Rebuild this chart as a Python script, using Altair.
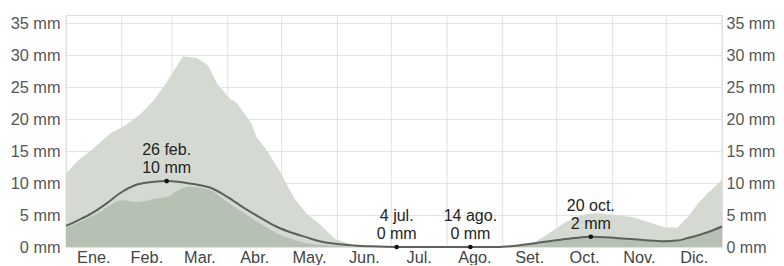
import altair as alt
import pandas as pd

# ---- data (day of year, mm) ----
p90_days = [0, 7, 16, 25, 33, 42, 49, 55, 62, 65, 73, 79, 84, 91, 95, 103, 106, 112, 119, 127, 134, 141, 150, 160, 170,
            181, 240, 250, 261, 269, 278, 287, 295, 306, 315, 324, 333, 340, 346, 352, 357, 361, 365]
p90_mm = [11.5, 13.6, 15.6, 17.8, 19.0, 20.9, 23.0, 25.3, 28.4, 29.8, 29.5, 28.4, 25.6, 23.2, 22.5, 19.4, 17.2, 15.0, 11.8, 7.6, 5.2, 3.6, 1.2, 0.3, 0.05,
          0.0, 0.0, 0.1, 0.8, 2.2, 3.9, 5.0, 5.3, 5.0, 4.7, 3.9, 3.1, 3.0, 4.7, 6.9, 8.4, 9.4, 10.5]

p75_days = [0, 10, 18, 25, 31, 40, 49, 56, 62, 69, 75, 80, 90, 99, 108, 117, 127, 134, 150, 165,
            240, 250, 261, 274, 283, 292, 306, 321, 333, 340, 346, 357, 365]
p75_mm = [3.0, 4.2, 5.3, 6.6, 7.3, 7.0, 7.5, 7.8, 8.8, 9.4, 9.2, 8.9, 7.0, 5.3, 3.7, 2.2, 1.1, 0.6, 0.2, 0.0,
          0.0, 0.15, 0.5, 1.0, 1.3, 1.5, 1.3, 1.0, 0.8, 0.9, 1.3, 2.2, 3.1]

mean_days = [0, 7, 14, 23, 30, 40, 49, 56, 62, 67, 74, 80, 90, 99, 108, 117, 127, 134, 141, 150, 160, 170, 184,
             240, 250, 261, 274, 283, 292, 306, 321, 333, 340, 346, 357, 365]
mean_mm = [3.3, 4.2, 5.2, 6.9, 8.4, 9.8, 10.2, 10.3, 10.2, 10.0, 9.7, 9.3, 7.8, 6.1, 4.6, 3.2, 2.1, 1.5, 0.9, 0.5, 0.25, 0.1, 0.0,
           0.0, 0.2, 0.6, 1.1, 1.4, 1.6, 1.4, 1.1, 0.9, 1.0, 1.4, 2.3, 3.2]

month_labels = ["Ene.", "Feb.", "Mar.", "Abr.", "May.", "Jun.", "Jul.", "Ago.", "Set.", "Oct.", "Nov.", "Dic."]
month_starts = [0, 31, 59, 90, 120, 151, 181, 212, 243, 273, 304, 334, 365]

ann_days = [56, 184, 225, 292]
ann_mm = [10.3, 0.0, 0.0, 1.6]
ann_date = ["26 feb.", "4 jul.", "14 ago.", "20 oct."]
ann_value = ["10 mm", "0 mm", "0 mm", "2 mm"]

y_ticks = [0, 5, 10, 15, 20, 25, 30, 35]

# ---- tables ----
p90_df = pd.DataFrame({"day": p90_days, "mm": p90_mm})
p75_df = pd.DataFrame({"day": p75_days, "mm": p75_mm})
mean_df = pd.DataFrame({"day": mean_days, "mm": mean_mm})
grid_df = pd.DataFrame({"day": month_starts})
mid_df = pd.DataFrame({
    "day": [(month_starts[i] + month_starts[i + 1]) / 2 for i in range(12)],
    "label": month_labels,
})
ann_df = pd.DataFrame({"day": ann_days, "mm": ann_mm, "date": ann_date, "val": ann_value})

W, H = 656, 232
FONT = "Liberation Sans"
FS = 16.3
xs = alt.Scale(domain=[0, 365], nice=False, zero=False)
ys = alt.Scale(domain=[0, 36.25], nice=False)

X = alt.X("day:Q", scale=xs, axis=None)

left_axis = alt.Axis(values=y_ticks, labelExpr="datum.value + ' mm'", title=None,
                     grid=True, gridColor="#e3e3e3", domain=False, ticks=False,
                     labelOverlap=False, labelFlush=False, tickCount=8,
                     labelPadding=6, labelFont=FONT, labelFontSize=FS, labelColor="#555555")
Y = alt.Y("mm:Q", scale=ys, axis=left_axis)

vgrid = alt.Chart(grid_df).mark_rule(color="#e1e1e1", strokeWidth=1).encode(
    x=X, y=alt.value(0), y2=alt.value(H)
)

light = alt.Chart(p90_df).mark_area(color="#d4dad2", opacity=1, interpolate="linear").encode(x=X, y=Y)
dark = alt.Chart(p75_df).mark_area(color="#b6c0b3", opacity=1, interpolate="monotone").encode(x=X, y=Y)
line = alt.Chart(mean_df).mark_line(color="#5a6358", strokeWidth=2, interpolate="monotone").encode(x=X, y=Y)
dots = alt.Chart(ann_df).mark_circle(color="#111111", size=22, opacity=1).encode(x=X, y=Y)

txt_val = alt.Chart(ann_df).mark_text(font=FONT, fontSize=16, color="#222222", dy=-13,
                                      baseline="middle", align="center").encode(x=X, y=Y, text="val:N")
txt_date = alt.Chart(ann_df).mark_text(font=FONT, fontSize=16, color="#222222", dy=-31,
                                       baseline="middle", align="center").encode(x=X, y=Y, text="date:N")

months = alt.Chart(mid_df).mark_text(font=FONT, fontSize=FS, color="#444444",
                                     baseline="alphabetic", align="center").encode(
    x=X, y=alt.value(H + 16), text="label:N"
)

main = alt.layer(vgrid, light, dark, line, dots, txt_val, txt_date, months)

right = alt.Chart(mean_df).mark_line(opacity=0).encode(
    x=X,
    y=alt.Y("mm:Q", scale=ys,
            axis=alt.Axis(orient="right", values=y_ticks, labelExpr="datum.value + ' mm'", title=None,
                          grid=False, domain=False, ticks=False, labelPadding=4,
                          labelOverlap=False, labelFlush=False, tickCount=8,
                          labelFont=FONT, labelFontSize=16, labelColor="#555555")),
)

chart = alt.layer(main, right).resolve_scale(y="independent").properties(
    width=W, height=H,
    autosize=alt.AutoSizeParams(type="none"),
    padding={"left": 58, "top": 7, "right": 54, "bottom": 18},
).configure_view(stroke=None).configure(background="white")

chart.save("out.html", embed_options={"renderer": "svg", "actions": False})
